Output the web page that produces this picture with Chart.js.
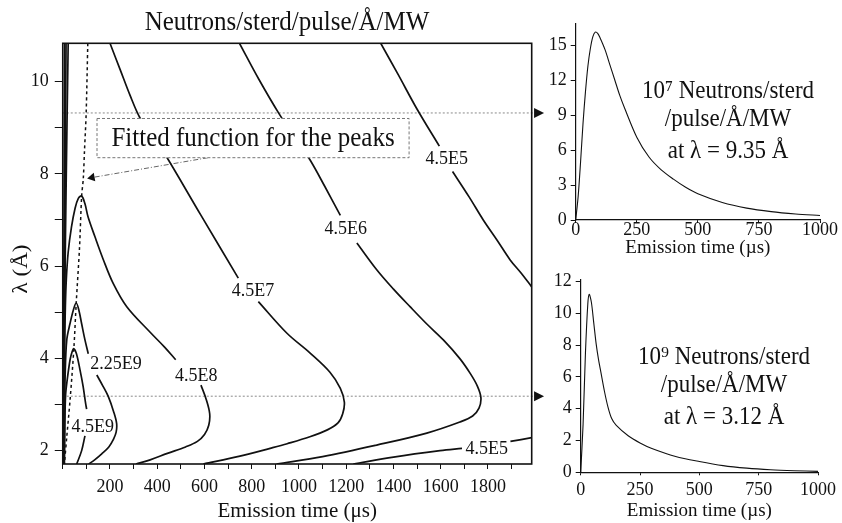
<!DOCTYPE html>
<html>
<head>
<meta charset="utf-8">
<script src="https://cdn.jsdelivr.net/npm/chart.js@4.4.1/dist/chart.umd.min.js"></script>
<style>
  html, body { margin: 0; padding: 0; background: #fff; }
  #wrap { position: relative; width: 842px; height: 523px; overflow: hidden; }
  canvas { position: absolute; }
  #main { left: 0; top: 0; }
  #top { left: 520px; top: 0; }
  #bot { left: 520px; top: 262px; }
</style>
</head>
<body>
<div id="wrap">
  <canvas id="main" width="560" height="523"></canvas>
  <canvas id="top" width="322" height="262"></canvas>
  <canvas id="bot" width="322" height="261"></canvas>
</div>
<script>
const SERIF = '"Liberation Serif", "Times New Roman", serif';
const INK = '#111';

// contour lines of the map, points are [emission time (µs), wavelength (Å)]
// null = the line is broken where its label sits
const c45e9 = [[7,1.71],[9,2.6],[12,3.2],[18,3.5],[31,3.97],[40,4.15],[47,4.21],[58,4.1],[73,3.75],[86,3.4],[96,3.05],[101,2.9], null,
  [94,2.32],[80,2.0],[59,1.71]];
const c225e9 = [[6,1.71],[8,2.8],[10,3.6],[17,4.4],[31,4.76],[45,5.05],[57,5.2],[68,5.05],[80,4.75],[94,4.4],[108,4.1], null,
  [144,3.64],[170,3.4],[193,3.17],[215,2.85],[228,2.59],[226,2.4],[215,2.25],[195,2.08],[165,1.93],[135,1.8],[110,1.71]];
const c45e8 = [[5,1.71],[6,3],[8,4.3],[11,5.1],[15,5.7],[23,6.3],[37,6.85],[52,7.25],[66,7.47],[80,7.52],[94,7.35],[107,7.07],
  [136,6.64],[171,6.15],[214,5.62],[271,5.12],[371,4.56],[430,4.25],[478,3.97], null,
  [585,3.42],[608,3.1],[622,2.8],[618,2.55],[600,2.35],[570,2.2],[520,2.08],[443,1.94],[370,1.8],[310,1.71]];
const c45e7 = [[200,10.83],[243,10.26],[285,9.7],[327,9.21],[375,8.85],[425,8.49],[584,7.11],[743,5.74], null,
  [828,5.23],[948,4.55],[1046,4.12],[1131,3.7],[1175,3.35],[1192,3.05],[1185,2.8],[1165,2.6],[1120,2.45],[1046,2.3],
  [950,2.15],[878,2.05],[750,1.88],[595,1.71]];
const c45e6 = [[748,10.83],[830,10.05],[916,9.3],[1000,8.65],[1047,8.3],[1110,7.72],[1175,7.1], null,
  [1245,6.5],[1329,5.92],[1400,5.5],[1470,5.12],[1540,4.75],[1611,4.4],[1680,4.0],[1724,3.68],[1755,3.4],[1770,3.15],
  [1762,2.92],[1735,2.75],[1681,2.62],[1541,2.38],[1329,2.12],[1100,1.87],[905,1.71]];
const c45e5 = [[1346,10.83],[1420,10.15],[1500,9.4],[1594,8.6], null,
  [1650,8.05],[1720,7.5],[1780,7.0],[1840,6.55],[1893,6.14],[1940,5.85],[1985,5.55]];
const c45e5low = [[1230,1.71],[1400,1.86],[1597,2.0],[1690,2.05], null, [1895,2.2],[1985,2.28]];
// rising edges of the outer levels, squeezed against t = 0
const edgeE7 = [[4,1.71],[8,5],[15,8],[23,10.83]];
const edgeE6 = [[3,1.71],[8,6],[14,10.83]];
const edgeE5 = [[2,1.71],[5,6],[8,10.83]];

const fitPeaks = [[106,10.83],[99,9.3],[92,8.5],[87,7.9],[80,7.52],[71,6.4],[57,5.2],[47,4.21],[31,3.1],[17,2.3],[7,1.71]];

const levelText = ['4.5E5', '4.5E6', '4.5E7', '4.5E8', '2.25E9', '4.5E9', '4.5E5'];
const levelT = [1625, 1198, 805, 565, 225, 127, 1795];
const levelL = [8.32, 6.8, 5.47, 3.62, 3.89, 2.52, 2.05];

const cutLambda = [9.32, 3.18];
const cutSpan = [0, 2012];
const noteBoxT = [145, 1466];
const noteBoxL = [8.35, 9.2];
const noteArrow = [[615, 8.35], [124, 7.92]];

// pulse shapes on the two cuts
const pulseT1 = [0,10,20,30,40,50,60,70,80,90,100,120,140,160,180,200,250,300,350,400,450,500,600,700,800,900,1000];
const pulse935 = [0,2,5,8.3,11,13.2,14.7,15.7,16.1,16.0,15.6,14.6,13.3,12.0,10.7,9.6,7.1,5.4,4.3,3.5,2.8,2.25,1.5,1.02,0.72,0.52,0.38];
const pulseT2 = [0,10,20,30,36,45,55,65,75,85,100,115,130,150,200,250,300,400,500,600,700,800,900,1000];
const pulse312 = [0,3,7.5,10.6,11.2,10.7,9.4,8.1,7.1,6.3,5.1,4.1,3.4,2.95,2.3,1.85,1.5,1.0,0.68,0.42,0.26,0.16,0.1,0.06];

function toPts(arr) {
  const out = [];
  arr.forEach(p => {
    if (p === null) out.push({x: out[out.length - 1].x, y: null});
    else out.push({x: p[0], y: p[1]});
  });
  return out;
}

function contour(arr) {
  return {data: toPts(arr), borderColor: INK, borderWidth: 1.7, pointRadius: 0, tension: 0.35, spanGaps: false};
}

function serif(size) {
  return {family: SERIF, size: size, lineHeight: 1};
}

// the printed lettering is a little taller than wide, hence the small stretch
function text(ctx, str, x, y, size, rot) {
  ctx.save();
  ctx.font = size + 'px ' + SERIF;
  ctx.fillStyle = INK;
  ctx.textAlign = 'center';
  ctx.textBaseline = 'middle';
  ctx.translate(x, y);
  if (rot) ctx.rotate(rot);
  ctx.scale(rot ? 1.1 : 1, rot ? 1 : 1.1);
  ctx.fillText(str, 0, 0);
  ctx.restore();
}

function triangle(ctx, px, py) {
  ctx.save();
  ctx.fillStyle = INK;
  ctx.beginPath();
  ctx.moveTo(px - 4, py - 5);
  ctx.lineTo(px + 6, py);
  ctx.lineTo(px - 4, py + 5);
  ctx.closePath();
  ctx.fill();
  ctx.restore();
}

const mainNotes = {
  id: 'mainNotes',
  afterDatasetsDraw(chart) {
    const {ctx, chartArea: a, scales: {x, y}} = chart;
    levelText.forEach((s, i) => text(ctx, s, x.getPixelForValue(levelT[i]), y.getPixelForValue(levelL[i]), 18));
    const bx = x.getPixelForValue(noteBoxT[0]), bx2 = x.getPixelForValue(noteBoxT[1]);
    const by = y.getPixelForValue(noteBoxL[1]), by2 = y.getPixelForValue(noteBoxL[0]);
    ctx.save();
    ctx.fillStyle = '#fff';
    ctx.fillRect(bx, by, bx2 - bx, by2 - by);
    ctx.strokeStyle = '#777';
    ctx.lineWidth = 1;
    ctx.setLineDash([3, 2]);
    ctx.strokeRect(bx, by, bx2 - bx, by2 - by);
    ctx.restore();
    text(ctx, 'Fitted function for the peaks', (bx + bx2) / 2, (by + by2) / 2 + 1, 25);
    cutLambda.forEach(l => triangle(ctx, x.getPixelForValue(cutSpan[1]), y.getPixelForValue(l)));
    ctx.save();
    ctx.strokeStyle = INK;
    ctx.lineWidth = 1.6;
    ctx.strokeRect(a.left, a.top, a.right - a.left, a.bottom - a.top);
    ctx.restore();
  },
  afterDraw(chart) {
    const ctx = chart.ctx;
    text(ctx, 'Neutrons/sterd/pulse/Å/MW', 287, 23, 25);
    text(ctx, 'λ (Å)', 21, 269, 21, -Math.PI / 2);
  }
};

const contours = [c45e9, c225e9, c45e8, c45e7, c45e6, c45e5, c45e5low, edgeE7, edgeE6, edgeE5];

new Chart(document.getElementById('main'), {
  type: 'line',
  data: {
    datasets: [
      ...contours.map(contour),
      {data: toPts(fitPeaks), borderColor: INK, borderWidth: 1.5, borderDash: [3, 3], pointRadius: 0, tension: 0.3},
      ...cutLambda.map(l => ({
        data: cutSpan.map(t => ({x: t, y: l})), borderColor: '#8a8a8a', borderWidth: 1, borderDash: [2, 2],
        pointRadius: 0, clip: false
      })),
      {
        data: toPts(noteArrow), borderColor: '#666', borderWidth: 1, borderDash: [5, 2, 1, 2],
        pointStyle: 'triangle', pointRotation: 260, pointRadius: c => c.dataIndex === 1 ? 5 : 0,
        pointBackgroundColor: INK, pointBorderColor: INK, pointBorderWidth: 0
      }
    ]
  },
  options: {
    responsive: false,
    animation: false,
    events: [],
    layout: {padding: {top: 43.3, right: 28.3}},
    plugins: {legend: {display: false}, tooltip: {enabled: false}},
    scales: {
      x: {
        type: 'linear', min: 0, max: 1985,
        afterFit: s => { s.height = 59; },
        ticks: {
          stepSize: 100, autoSkip: false, maxRotation: 0, includeBounds: false, maxTicksLimit: 100,
          callback: v => (Math.round(v) % 200 === 0 && v > 0) ? String(Math.round(v)) : '',
          font: serif(18), color: INK, padding: 9
        },
        grid: {drawOnChartArea: false, tickLength: 5, color: INK},
        border: {display: false},
        title: {display: true, text: 'Emission time (μs)', font: serif(21), color: INK, padding: {top: 0, bottom: 1}}
      },
      y: {
        type: 'linear', min: 1.71, max: 10.83,
        afterFit: s => { s.width = 62.75; },
        ticks: {
          stepSize: 1, autoSkip: false, includeBounds: false,
          callback: v => (Math.round(v) % 2 === 0) ? String(Math.round(v)) : '',
          font: serif(18), color: INK, padding: 6
        },
        grid: {drawOnChartArea: false, tickLength: 8, color: INK},
        border: {display: false}
      }
    }
  },
  plugins: [mainNotes]
});

function pulseNotes(id, lines, cx, ys) {
  return {
    id: id,
    afterDraw(chart) {
      lines.forEach((s, i) => text(chart.ctx, s, cx, ys[i], 23));
    }
  };
}

function pulseChart(el, ts, vs, o) {
  return new Chart(el, {
    type: 'line',
    data: {datasets: [{data: ts.map((t, i) => ({x: t, y: vs[i]})), borderColor: INK, borderWidth: 1.1, pointRadius: 0, tension: 0.3}]},
    options: {
      responsive: false,
      animation: false,
      events: [],
      layout: {padding: {top: o.top, right: o.right}},
      plugins: {legend: {display: false}, tooltip: {enabled: false}},
      scales: {
        x: {
          type: 'linear', min: 0, max: 1000,
          afterFit: s => { s.height = o.xh; },
          ticks: {
            stepSize: 250, autoSkip: false, maxRotation: 0, callback: v => String(v),
            font: serif(18), color: INK, padding: o.xpad
          },
          grid: {drawOnChartArea: false, tickLength: 3, color: INK},
          border: {color: INK, width: 1.2},
          title: {display: true, text: 'Emission time (µs)', font: serif(19), color: INK, padding: {top: 0, bottom: o.tpad}}
        },
        y: {
          type: 'linear', min: 0, max: o.ymax,
          afterFit: s => { s.width = o.yw; },
          ticks: {stepSize: o.ystep, autoSkip: false, includeBounds: false, font: serif(18), color: INK, padding: 4},
          grid: {drawOnChartArea: false, tickLength: 5, color: INK},
          border: {color: INK, width: 1.2}
        }
      }
    },
    plugins: [pulseNotes(o.id, o.lines, o.cx, o.ys)]
  });
}

pulseChart(document.getElementById('top'), pulseT1, pulse935, {
  id: 'n1', top: 24, right: 22, xh: 42, xpad: -2, tpad: 4, ymax: 16.8, yw: 55.7, ystep: 3,
  lines: ['10⁷ Neutrons/sterd', '/pulse/Å/MW', 'at λ = 9.35 Å'], cx: 208, ys: [91, 119, 151]
});

pulseChart(document.getElementById('bot'), pulseT2, pulse312, {
  id: 'n2', top: 18, right: 22, xh: 50.7, xpad: 6, tpad: 2, ymax: 12.1, yw: 60.7, ystep: 2,
  lines: ['10⁹ Neutrons/sterd', '/pulse/Å/MW', 'at λ = 3.12 Å'], cx: 204, ys: [95, 123, 155]
});
</script>
</body>
</html>
